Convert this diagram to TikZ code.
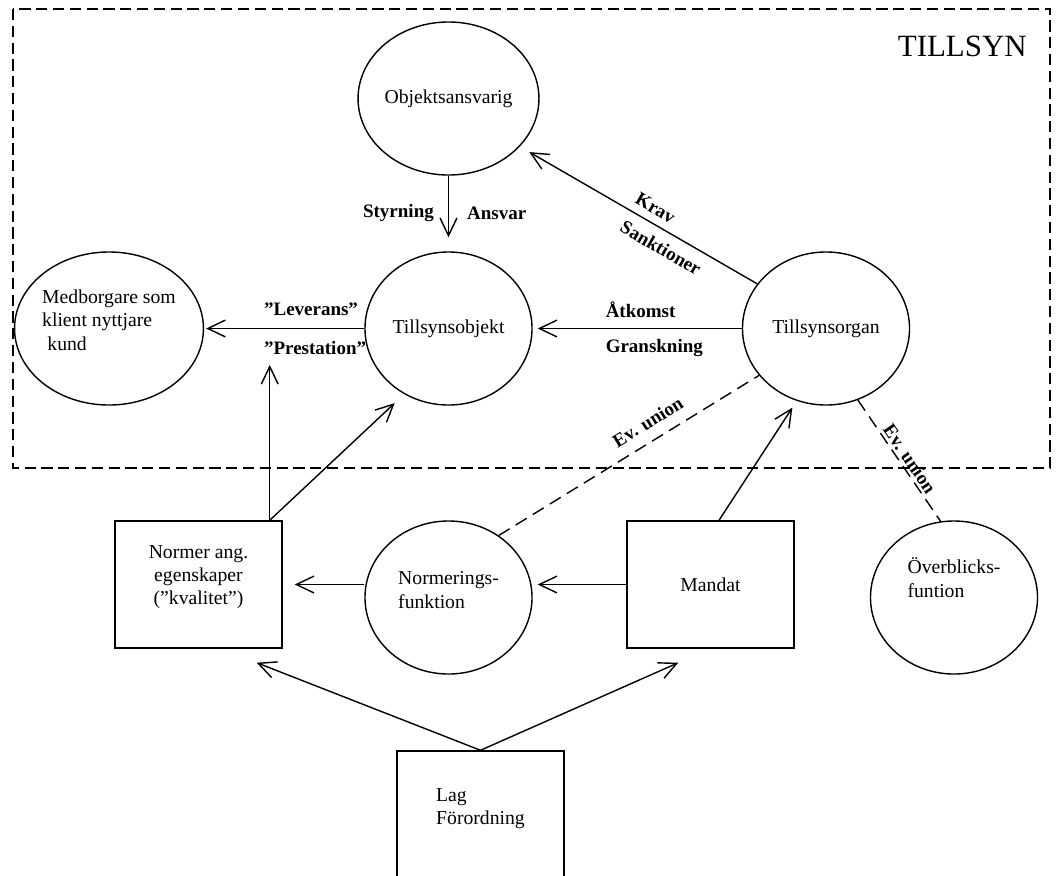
\documentclass[tikz,border=0pt]{standalone}
\usepackage{fontspec}
\setmainfont{Liberation Serif}
\usetikzlibrary{arrows.meta,shapes.geometric,calc}

\begin{document}
\begin{tikzpicture}[
  x=0.025cm, y=-0.025cm,
  party/.style={ellipse, draw, line width=1pt, minimum width=4.175cm, minimum height=3.825cm,
    inner sep=0pt, align=left, font=\fontsize{14}{16.5}\selectfont},
  rulebox/.style={rectangle, draw, line width=1pt, minimum width=4.175cm, minimum height=3.175cm,
    inner sep=0pt, align=center, font=\fontsize{14}{16.5}\selectfont},
  flow/.style={line width=1pt, -{Straight Barb[length=4.4mm, width=4.2mm]}},
  union/.style={line width=1pt, dash pattern=on 3.2mm off 1.8mm},
  flowlabel/.style={inner sep=0pt, font=\bfseries\fontsize{13.5}{16}\selectfont},
  scopeframe/.style={line width=1.6pt, dash pattern=on 2.8mm off 1.4mm}
]
  % Page size (pixel grid of the original, 1 unit = 0.25mm)
  \useasboundingbox (0,0) rectangle (1056,875);

  % The TILLSYN area
  \draw[scopeframe] (13,9) rectangle (1050,468);
  \node[anchor=east, inner sep=0pt, font=\fontsize{22}{24}\selectfont] (title) at (1027,46) {TILLSYN};

  % Actors (ellipses)
  \node[party] (oa) at (448.5,98.5) {Objektsansvarig};
  \node[party, text depth=0.425cm] (medb) at (109,328.5) {Medborgare som\\klient nyttjare\\\hspace*{0.13cm}kund};
  \node[party] (tobj) at (448.5,328.5) {Tillsynsobjekt};
  \node[party] (torg) at (826,328.5) {Tillsynsorgan};
  \node[party, text depth=0.375cm] (normf) at (448.5,597.5) {Normerings-\\funktion};
  \node[party, text depth=1cm] (overb) at (954,597.5) {Överblicks-\\funtion};

  % Rules and mandates (boxes)
  \node[rulebox, text depth=0.46cm] (normer) at (198.5,584.5) {Normer ang.\\egenskaper\\(”kvalitet”)};
  \node[rulebox] (mandat) at (710.5,584.5) {Mandat};
  \node[rulebox, align=left, text depth=0.41cm] (lag) at (480.5,814.5) {Lag\\Förordning};

  % Points where the connectors leave or hit the boxes
  \coordinate (normer top) at ($(normer.north east)+(-13,0)$);
  \coordinate (mandat top) at ($(mandat.north)+(8.5,0)$);
  \coordinate (normer foot) at ($(normer.south east)+(-26,14)$);
  \coordinate (mandat foot) at ($(mandat.south west)+(52,14)$);

  % Steering from the responsible party
  \draw[flow, shorten >=3.5mm] (oa.south) -- (tobj.north)
    node[flowlabel, midway, left, xshift=-0.35cm] (styr) {Styrning}
    node[flowlabel, midway, right, xshift=0.45cm] (ansv) {Ansvar};

  % Delivery to the citizen
  \draw[flow, shorten >=0.5mm] (tobj.west) -- (medb.east)
    node[flowlabel, pos=0.63, anchor=west, yshift=0.475cm] (lev) {”Leverans”}
    node[flowlabel, pos=0.63, anchor=west, yshift=-0.475cm] (prest) {”Prestation”};

  % Supervision
  \draw[flow, shorten >=1.25mm] (torg.west) -- (tobj.east)
    node[flowlabel, pos=0.654, anchor=west, yshift=0.475cm] (atk) {Åtkomst}
    node[flowlabel, pos=0.654, anchor=west, yshift=-0.475cm] (gransk) {Granskning};
  \draw[flow, shorten >=2.75mm] (torg.147) -- (oa.-34)
    node[flowlabel, pos=0.46, sloped, above=0.19cm] (krav) {Krav}
    node[flowlabel, pos=0.37, sloped, below=0.24cm] (sankt) {Sanktioner};

  % Norms and mandate
  \draw[flow, shorten >=2.5mm] (normer top) -- (normer top |- prest.south);
  \draw[flow, shorten >=3.25mm] (normer top) -- (tobj.-124);
  \draw[flow, shorten >=2mm] (mandat top) -- (torg.-112);
  \draw[flow, shorten >=3mm] (normf.west |- normer.east) -- (normer.east);
  \draw[flow, shorten >=1.25mm] (mandat.west) -- (normf.east |- mandat.west);

  % Law gives both
  \draw[flow] (lag.north) -- (normer foot);
  \draw[flow] (lag.north) -- (mandat foot);

  % Possible unions
  \draw[union] (normf.51.5) -- (torg.-145.6)
    node[flowlabel, pos=0.61, sloped, above=0.28cm] (union1) {Ev. union};
  \draw[union] (torg.-66.8) -- (overb.100.4)
    node[flowlabel, pos=0.53, sloped, above=0.06cm] (union2) {Ev. union};

\end{tikzpicture}
\end{document}
